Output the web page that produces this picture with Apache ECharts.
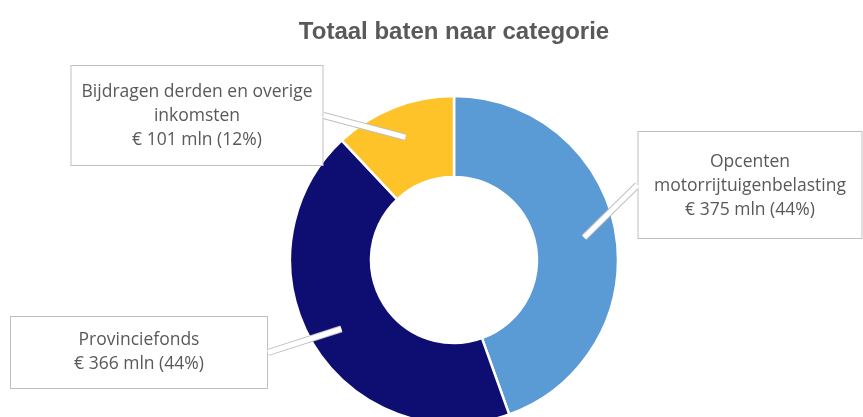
<!DOCTYPE html>
<html>
<head>
<meta charset="utf-8">
<script src="https://cdn.jsdelivr.net/npm/echarts@6/dist/echarts.min.js"></script>
<style>
  html, body { margin: 0; padding: 0; background: #fff; }
  #chart { width: 863px; height: 417px; }
</style>
</head>
<body>
<div id="chart"></div>
<script>
// data, clockwise from 12 o'clock
const categories = ['Opcenten\nmotorrijtuigenbelasting', 'Provinciefonds', 'Bijdragen derden en overige\ninkomsten']
const amounts = [375, 366, 101]
const pctLabels = ['44%', '44%', '12%']
const colors = ['#5B9BD5', '#0E0E72', '#FFC32A']

// callout boxes (centre x, top y, width, padding)
const boxes = [
  { cx: 750, top: 132, width: 223, padding: [18, 0, 16, 0] },
  { cx: 139, top: 317, width: 256, padding: [11, 0, 12, 0] },
  { cx: 197, top: 66, width: 251, padding: [14, 0, 13, 0] }
]

const chart = echarts.init(document.getElementById('chart'))

const pieData = categories.map((name, i) => ({
  name: name,
  value: amounts[i],
  itemStyle: { color: colors[i] }
}))

const helperData = categories.map((name, i) => ({
  name: name,
  value: amounts[i],
  label: {
    width: boxes[i].width,
    padding: boxes[i].padding
  }
}))

const labelText = p => p.name + '\n€ ' + p.value + ' mln (' + pctLabels[p.dataIndex] + ')'

const labelLayout = params => {
  const b = boxes[params.dataIndex]
  return { x: b.cx, y: b.top, align: 'center', verticalAlign: 'top' }
}

// invisible copy of the donut that only carries callouts;
// drawn twice (grey wide line, then white narrower) to get an outlined pointer
const calloutSeries = (lineColor, lineWidth, boxed, z) => ({
  type: 'pie',
  center: [454, 260],
  radius: 132,
  startAngle: 90,
  clockwise: true,
  silent: true,
  z: z,
  avoidLabelOverlap: false,
  itemStyle: { color: 'rgba(0,0,0,0)', borderWidth: 0 },
  label: {
    show: true,
    position: 'outside',
    formatter: labelText,
    fontFamily: 'Open Sans',
    fontSize: 17.5,
    lineHeight: 24,
    color: boxed ? '#595959' : 'rgba(0,0,0,0)',
    align: 'center',
    backgroundColor: boxed ? '#fff' : 'transparent',
    borderColor: boxed ? '#BFBFBF' : 'transparent',
    borderWidth: 1
  },
  labelLine: {
    show: true,
    length: 10,
    length2: 0,
    lineStyle: { color: lineColor, width: lineWidth, cap: 'butt' }
  },
  labelLayout: labelLayout,
  data: helperData
})

chart.setOption({
  animation: false,
  title: {
    text: 'Totaal baten naar categorie',
    left: 449,
    top: 15,
    textAlign: 'center',
    textStyle: {
      fontFamily: 'Liberation Sans',
      fontSize: 24,
      fontWeight: 'bold',
      color: '#595959'
    }
  },
  series: [
    {
      type: 'pie',
      center: [454, 260],
      radius: [83, 164],
      startAngle: 90,
      clockwise: true,
      silent: true,
      label: { show: false },
      labelLine: { show: false },
      itemStyle: { borderColor: '#fff', borderWidth: 2.5 },
      data: pieData
    },
    calloutSeries('#BFBFBF', 7, true, 5),
    calloutSeries('#ffffff', 5, false, 6)
  ]
})
</script>
</body>
</html>
